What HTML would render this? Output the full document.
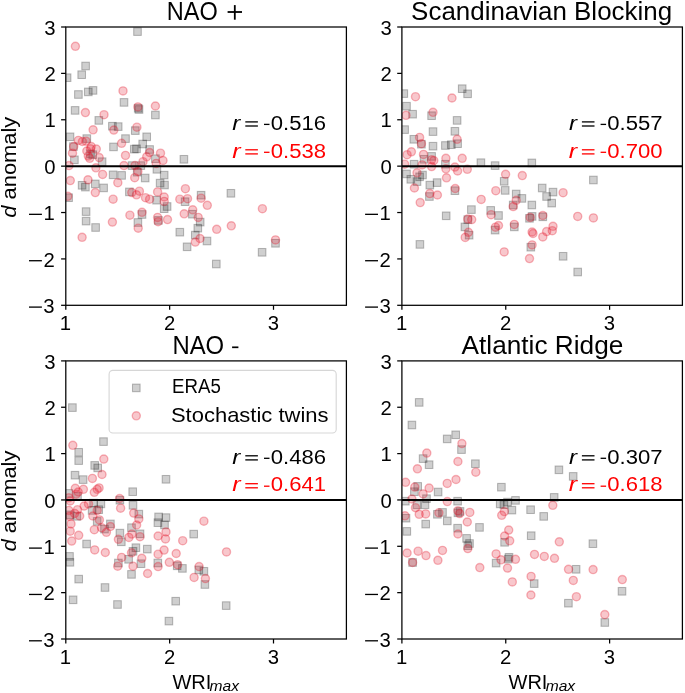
<!DOCTYPE html><html><head><meta charset="utf-8"><style>html,body{margin:0;padding:0;background:#fff;overflow:hidden}svg{display:block}text{font-family:"Liberation Sans",sans-serif}</style></head><body>
<svg width="685" height="693" viewBox="0 0 685 693">
<rect width="685" height="693" fill="#fff"/>
<g clip-path="url(#c0)">
<g fill="rgba(0,0,0,0.19)" stroke="rgba(0,0,0,0.25)" stroke-width="1.05">
<rect x="133.70" y="27.80" width="7.60" height="7.60"/>
<rect x="81.80" y="62.20" width="7.60" height="7.60"/>
<rect x="77.90" y="70.90" width="7.60" height="7.60"/>
<rect x="63.30" y="73.90" width="7.60" height="7.60"/>
<rect x="74.60" y="90.70" width="7.60" height="7.60"/>
<rect x="84.50" y="88.10" width="7.60" height="7.60"/>
<rect x="89.20" y="86.60" width="7.60" height="7.60"/>
<rect x="120.20" y="98.60" width="7.60" height="7.60"/>
<rect x="134.40" y="104.50" width="7.60" height="7.60"/>
<rect x="135.20" y="105.70" width="7.60" height="7.60"/>
<rect x="151.60" y="111.20" width="7.60" height="7.60"/>
<rect x="71.30" y="106.60" width="7.60" height="7.60"/>
<rect x="95.00" y="116.60" width="7.60" height="7.60"/>
<rect x="108.60" y="122.40" width="7.60" height="7.60"/>
<rect x="114.40" y="122.80" width="7.60" height="7.60"/>
<rect x="131.50" y="126.80" width="7.60" height="7.60"/>
<rect x="66.20" y="133.00" width="7.60" height="7.60"/>
<rect x="83.00" y="134.80" width="7.60" height="7.60"/>
<rect x="121.70" y="134.80" width="7.60" height="7.60"/>
<rect x="142.90" y="133.00" width="7.60" height="7.60"/>
<rect x="109.70" y="143.10" width="7.60" height="7.60"/>
<rect x="138.90" y="140.20" width="7.60" height="7.60"/>
<rect x="69.60" y="142.80" width="7.60" height="7.60"/>
<rect x="130.50" y="145.30" width="7.60" height="7.60"/>
<rect x="132.70" y="145.00" width="7.60" height="7.60"/>
<rect x="145.80" y="145.70" width="7.60" height="7.60"/>
<rect x="86.70" y="150.10" width="7.60" height="7.60"/>
<rect x="88.90" y="150.90" width="7.60" height="7.60"/>
<rect x="70.60" y="156.00" width="7.60" height="7.60"/>
<rect x="98.30" y="157.90" width="7.60" height="7.60"/>
<rect x="151.60" y="154.90" width="7.60" height="7.60"/>
<rect x="128.30" y="161.80" width="7.60" height="7.60"/>
<rect x="137.00" y="161.80" width="7.60" height="7.60"/>
<rect x="153.10" y="165.50" width="7.60" height="7.60"/>
<rect x="109.30" y="171.00" width="7.60" height="7.60"/>
<rect x="117.80" y="171.60" width="7.60" height="7.60"/>
<rect x="133.40" y="168.40" width="7.60" height="7.60"/>
<rect x="141.40" y="174.20" width="7.60" height="7.60"/>
<rect x="78.30" y="181.50" width="7.60" height="7.60"/>
<rect x="81.60" y="183.30" width="7.60" height="7.60"/>
<rect x="91.50" y="180.10" width="7.60" height="7.60"/>
<rect x="99.80" y="184.10" width="7.60" height="7.60"/>
<rect x="156.30" y="179.30" width="7.60" height="7.60"/>
<rect x="125.60" y="188.10" width="7.60" height="7.60"/>
<rect x="64.80" y="193.90" width="7.60" height="7.60"/>
<rect x="152.80" y="196.40" width="7.60" height="7.60"/>
<rect x="82.30" y="207.80" width="7.60" height="7.60"/>
<rect x="138.20" y="210.70" width="7.60" height="7.60"/>
<rect x="154.60" y="216.60" width="7.60" height="7.60"/>
<rect x="82.30" y="217.30" width="7.60" height="7.60"/>
<rect x="134.10" y="218.70" width="7.60" height="7.60"/>
<rect x="180.10" y="155.50" width="7.60" height="7.60"/>
<rect x="160.40" y="171.30" width="7.60" height="7.60"/>
<rect x="160.70" y="181.20" width="7.60" height="7.60"/>
<rect x="163.30" y="202.70" width="7.60" height="7.60"/>
<rect x="160.40" y="204.90" width="7.60" height="7.60"/>
<rect x="181.30" y="197.90" width="7.60" height="7.60"/>
<rect x="197.30" y="191.40" width="7.60" height="7.60"/>
<rect x="227.10" y="189.50" width="7.60" height="7.60"/>
<rect x="188.60" y="210.40" width="7.60" height="7.60"/>
<rect x="196.40" y="218.30" width="7.60" height="7.60"/>
<rect x="91.80" y="223.70" width="7.60" height="7.60"/>
<rect x="194.00" y="224.40" width="7.60" height="7.60"/>
<rect x="176.00" y="228.40" width="7.60" height="7.60"/>
<rect x="191.50" y="231.30" width="7.60" height="7.60"/>
<rect x="203.20" y="237.20" width="7.60" height="7.60"/>
<rect x="183.30" y="243.00" width="7.60" height="7.60"/>
<rect x="212.50" y="260.20" width="7.60" height="7.60"/>
<rect x="258.30" y="248.50" width="7.60" height="7.60"/>
<rect x="271.70" y="239.50" width="7.60" height="7.60"/>
</g>
<g fill="rgba(228,30,50,0.25)" stroke="rgba(230,20,40,0.30)" stroke-width="1.40">
<circle cx="75.4" cy="46.3" r="4.05"/>
<circle cx="123.0" cy="90.9" r="4.05"/>
<circle cx="137.9" cy="106.9" r="4.05"/>
<circle cx="155.4" cy="106.0" r="4.05"/>
<circle cx="85.4" cy="112.6" r="4.05"/>
<circle cx="104.0" cy="114.7" r="4.05"/>
<circle cx="113.8" cy="130.1" r="4.05"/>
<circle cx="93.1" cy="129.8" r="4.05"/>
<circle cx="136.9" cy="127.2" r="4.05"/>
<circle cx="78.4" cy="140.4" r="4.05"/>
<circle cx="82.4" cy="141.5" r="4.05"/>
<circle cx="86.1" cy="141.2" r="4.05"/>
<circle cx="121.6" cy="143.3" r="4.05"/>
<circle cx="73.7" cy="146.6" r="4.05"/>
<circle cx="91.2" cy="146.6" r="4.05"/>
<circle cx="96.3" cy="149.1" r="4.05"/>
<circle cx="149.6" cy="152.5" r="4.05"/>
<circle cx="86.8" cy="151.0" r="4.05"/>
<circle cx="90.5" cy="148.8" r="4.05"/>
<circle cx="72.5" cy="153.2" r="4.05"/>
<circle cx="88.3" cy="156.1" r="4.05"/>
<circle cx="89.7" cy="158.3" r="4.05"/>
<circle cx="125.5" cy="155.4" r="4.05"/>
<circle cx="146.7" cy="156.8" r="4.05"/>
<circle cx="160.5" cy="153.2" r="4.05"/>
<circle cx="99.2" cy="157.6" r="4.05"/>
<circle cx="143.0" cy="161.7" r="4.05"/>
<circle cx="69.0" cy="165.6" r="4.05"/>
<circle cx="124.0" cy="165.6" r="4.05"/>
<circle cx="135.0" cy="165.6" r="4.05"/>
<circle cx="156.2" cy="163.4" r="4.05"/>
<circle cx="95.9" cy="167.8" r="4.05"/>
<circle cx="102.6" cy="174.4" r="4.05"/>
<circle cx="137.9" cy="171.4" r="4.05"/>
<circle cx="134.7" cy="177.7" r="4.05"/>
<circle cx="70.3" cy="180.6" r="4.05"/>
<circle cx="88.0" cy="179.8" r="4.05"/>
<circle cx="117.8" cy="182.7" r="4.05"/>
<circle cx="95.3" cy="192.6" r="4.05"/>
<circle cx="131.8" cy="192.6" r="4.05"/>
<circle cx="139.4" cy="191.2" r="4.05"/>
<circle cx="136.5" cy="194.8" r="4.05"/>
<circle cx="157.6" cy="191.9" r="4.05"/>
<circle cx="67.8" cy="196.3" r="4.05"/>
<circle cx="113.1" cy="199.2" r="4.05"/>
<circle cx="145.5" cy="197.7" r="4.05"/>
<circle cx="149.6" cy="199.2" r="4.05"/>
<circle cx="129.9" cy="215.2" r="4.05"/>
<circle cx="142.0" cy="212.3" r="4.05"/>
<circle cx="157.6" cy="217.4" r="4.05"/>
<circle cx="112.4" cy="222.1" r="4.05"/>
<circle cx="163.0" cy="160.5" r="4.05"/>
<circle cx="185.4" cy="188.7" r="4.05"/>
<circle cx="164.2" cy="197.0" r="4.05"/>
<circle cx="164.2" cy="201.4" r="4.05"/>
<circle cx="179.8" cy="199.2" r="4.05"/>
<circle cx="187.5" cy="198.7" r="4.05"/>
<circle cx="201.1" cy="198.2" r="4.05"/>
<circle cx="207.3" cy="205.3" r="4.05"/>
<circle cx="262.4" cy="208.7" r="4.05"/>
<circle cx="184.2" cy="213.8" r="4.05"/>
<circle cx="192.7" cy="209.8" r="4.05"/>
<circle cx="198.2" cy="217.4" r="4.05"/>
<circle cx="167.5" cy="219.6" r="4.05"/>
<circle cx="231.3" cy="225.8" r="4.05"/>
<circle cx="138.2" cy="228.2" r="4.05"/>
<circle cx="158.1" cy="221.7" r="4.05"/>
<circle cx="82.1" cy="237.3" r="4.05"/>
<circle cx="216.7" cy="229.3" r="4.05"/>
<circle cx="200.0" cy="238.5" r="4.05"/>
<circle cx="195.3" cy="242.1" r="4.05"/>
<circle cx="275.5" cy="239.9" r="4.05"/>
</g>
<line x1="65.80" x2="346.40" y1="166.15" y2="166.15" stroke="#000" stroke-width="2.0"/>
</g>
<g clip-path="url(#c1)">
<g fill="rgba(0,0,0,0.19)" stroke="rgba(0,0,0,0.25)" stroke-width="1.05">
<rect x="458.40" y="84.90" width="7.60" height="7.60"/>
<rect x="463.80" y="90.00" width="7.60" height="7.60"/>
<rect x="400.00" y="89.80" width="7.60" height="7.60"/>
<rect x="402.70" y="102.40" width="7.60" height="7.60"/>
<rect x="408.80" y="110.40" width="7.60" height="7.60"/>
<rect x="427.80" y="111.90" width="7.60" height="7.60"/>
<rect x="453.30" y="116.60" width="7.60" height="7.60"/>
<rect x="400.80" y="125.80" width="7.60" height="7.60"/>
<rect x="429.20" y="127.80" width="7.60" height="7.60"/>
<rect x="451.10" y="127.50" width="7.60" height="7.60"/>
<rect x="410.00" y="135.50" width="7.60" height="7.60"/>
<rect x="417.60" y="140.40" width="7.60" height="7.60"/>
<rect x="429.20" y="142.40" width="7.60" height="7.60"/>
<rect x="441.60" y="141.70" width="7.60" height="7.60"/>
<rect x="447.50" y="140.90" width="7.60" height="7.60"/>
<rect x="453.80" y="139.90" width="7.60" height="7.60"/>
<rect x="427.80" y="152.60" width="7.60" height="7.60"/>
<rect x="420.20" y="155.50" width="7.60" height="7.60"/>
<rect x="477.10" y="158.90" width="7.60" height="7.60"/>
<rect x="491.30" y="161.80" width="7.60" height="7.60"/>
<rect x="410.30" y="160.40" width="7.60" height="7.60"/>
<rect x="441.60" y="160.40" width="7.60" height="7.60"/>
<rect x="402.70" y="170.10" width="7.60" height="7.60"/>
<rect x="407.00" y="175.50" width="7.60" height="7.60"/>
<rect x="413.20" y="177.80" width="7.60" height="7.60"/>
<rect x="415.80" y="173.00" width="7.60" height="7.60"/>
<rect x="418.70" y="171.20" width="7.60" height="7.60"/>
<rect x="426.00" y="181.30" width="7.60" height="7.60"/>
<rect x="433.30" y="178.80" width="7.60" height="7.60"/>
<rect x="451.10" y="186.90" width="7.60" height="7.60"/>
<rect x="425.60" y="192.70" width="7.60" height="7.60"/>
<rect x="442.40" y="212.00" width="7.60" height="7.60"/>
<rect x="467.60" y="205.80" width="7.60" height="7.60"/>
<rect x="486.90" y="206.60" width="7.60" height="7.60"/>
<rect x="464.00" y="215.80" width="7.60" height="7.60"/>
<rect x="461.10" y="223.10" width="7.60" height="7.60"/>
<rect x="465.30" y="231.40" width="7.60" height="7.60"/>
<rect x="416.10" y="240.60" width="7.60" height="7.60"/>
<rect x="528.00" y="159.10" width="7.60" height="7.60"/>
<rect x="589.60" y="176.20" width="7.60" height="7.60"/>
<rect x="500.40" y="177.50" width="7.60" height="7.60"/>
<rect x="501.40" y="186.60" width="7.60" height="7.60"/>
<rect x="512.40" y="190.20" width="7.60" height="7.60"/>
<rect x="518.10" y="194.60" width="7.60" height="7.60"/>
<rect x="538.40" y="184.20" width="7.60" height="7.60"/>
<rect x="549.20" y="188.30" width="7.60" height="7.60"/>
<rect x="542.80" y="192.70" width="7.60" height="7.60"/>
<rect x="547.90" y="199.30" width="7.60" height="7.60"/>
<rect x="528.00" y="201.20" width="7.60" height="7.60"/>
<rect x="509.40" y="201.20" width="7.60" height="7.60"/>
<rect x="494.70" y="211.70" width="7.60" height="7.60"/>
<rect x="528.30" y="212.60" width="7.60" height="7.60"/>
<rect x="525.70" y="214.50" width="7.60" height="7.60"/>
<rect x="539.00" y="213.00" width="7.60" height="7.60"/>
<rect x="491.30" y="226.30" width="7.60" height="7.60"/>
<rect x="510.50" y="223.10" width="7.60" height="7.60"/>
<rect x="527.00" y="243.40" width="7.60" height="7.60"/>
<rect x="559.30" y="252.50" width="7.60" height="7.60"/>
<rect x="573.90" y="268.20" width="7.60" height="7.60"/>
</g>
<g fill="rgba(228,30,50,0.25)" stroke="rgba(230,20,40,0.30)" stroke-width="1.40">
<circle cx="415.5" cy="96.7" r="4.05"/>
<circle cx="452.0" cy="98.0" r="4.05"/>
<circle cx="433.0" cy="112.3" r="4.05"/>
<circle cx="406.0" cy="115.3" r="4.05"/>
<circle cx="419.6" cy="137.4" r="4.05"/>
<circle cx="421.4" cy="143.7" r="4.05"/>
<circle cx="457.1" cy="139.3" r="4.05"/>
<circle cx="407.1" cy="154.7" r="4.05"/>
<circle cx="411.4" cy="151.8" r="4.05"/>
<circle cx="423.5" cy="154.4" r="4.05"/>
<circle cx="431.6" cy="159.8" r="4.05"/>
<circle cx="433.8" cy="160.5" r="4.05"/>
<circle cx="445.9" cy="158.3" r="4.05"/>
<circle cx="462.2" cy="158.3" r="4.05"/>
<circle cx="404.6" cy="164.2" r="4.05"/>
<circle cx="422.1" cy="164.9" r="4.05"/>
<circle cx="454.9" cy="167.1" r="4.05"/>
<circle cx="467.3" cy="169.3" r="4.05"/>
<circle cx="431.6" cy="166.6" r="4.05"/>
<circle cx="445.9" cy="168.8" r="4.05"/>
<circle cx="457.6" cy="171.0" r="4.05"/>
<circle cx="417.0" cy="172.8" r="4.05"/>
<circle cx="446.5" cy="177.8" r="4.05"/>
<circle cx="414.4" cy="188.0" r="4.05"/>
<circle cx="455.2" cy="188.5" r="4.05"/>
<circle cx="429.8" cy="193.6" r="4.05"/>
<circle cx="437.4" cy="195.0" r="4.05"/>
<circle cx="420.2" cy="202.6" r="4.05"/>
<circle cx="481.2" cy="199.4" r="4.05"/>
<circle cx="467.8" cy="219.1" r="4.05"/>
<circle cx="471.7" cy="219.6" r="4.05"/>
<circle cx="468.4" cy="232.3" r="4.05"/>
<circle cx="465.2" cy="237.4" r="4.05"/>
<circle cx="505.6" cy="174.3" r="4.05"/>
<circle cx="522.3" cy="175.6" r="4.05"/>
<circle cx="495.8" cy="190.7" r="4.05"/>
<circle cx="516.2" cy="200.3" r="4.05"/>
<circle cx="513.2" cy="206.6" r="4.05"/>
<circle cx="563.1" cy="192.7" r="4.05"/>
<circle cx="491.1" cy="214.7" r="4.05"/>
<circle cx="530.2" cy="217.4" r="4.05"/>
<circle cx="542.8" cy="215.5" r="4.05"/>
<circle cx="577.7" cy="216.4" r="4.05"/>
<circle cx="593.4" cy="217.9" r="4.05"/>
<circle cx="498.5" cy="225.5" r="4.05"/>
<circle cx="495.5" cy="227.2" r="4.05"/>
<circle cx="514.3" cy="224.4" r="4.05"/>
<circle cx="532.1" cy="232.0" r="4.05"/>
<circle cx="533.0" cy="233.5" r="4.05"/>
<circle cx="546.6" cy="231.6" r="4.05"/>
<circle cx="553.0" cy="226.3" r="4.05"/>
<circle cx="552.3" cy="230.7" r="4.05"/>
<circle cx="542.8" cy="236.9" r="4.05"/>
<circle cx="532.1" cy="244.9" r="4.05"/>
<circle cx="504.2" cy="251.9" r="4.05"/>
<circle cx="529.5" cy="258.6" r="4.05"/>
</g>
<line x1="401.90" x2="682.40" y1="166.15" y2="166.15" stroke="#000" stroke-width="2.0"/>
</g>
<g clip-path="url(#c2)">
<g fill="rgba(0,0,0,0.19)" stroke="rgba(0,0,0,0.25)" stroke-width="1.05">
<rect x="68.60" y="403.80" width="7.60" height="7.60"/>
<rect x="99.70" y="437.80" width="7.60" height="7.60"/>
<rect x="74.90" y="448.50" width="7.60" height="7.60"/>
<rect x="74.90" y="456.80" width="7.60" height="7.60"/>
<rect x="90.90" y="461.60" width="7.60" height="7.60"/>
<rect x="93.90" y="464.10" width="7.60" height="7.60"/>
<rect x="71.20" y="471.40" width="7.60" height="7.60"/>
<rect x="79.30" y="475.80" width="7.60" height="7.60"/>
<rect x="128.90" y="487.90" width="7.60" height="7.60"/>
<rect x="65.00" y="489.60" width="7.60" height="7.60"/>
<rect x="73.70" y="492.60" width="7.60" height="7.60"/>
<rect x="116.10" y="496.40" width="7.60" height="7.60"/>
<rect x="129.20" y="501.50" width="7.60" height="7.60"/>
<rect x="89.80" y="499.30" width="7.60" height="7.60"/>
<rect x="97.10" y="500.10" width="7.60" height="7.60"/>
<rect x="88.30" y="506.60" width="7.60" height="7.60"/>
<rect x="94.90" y="505.90" width="7.60" height="7.60"/>
<rect x="135.00" y="510.30" width="7.60" height="7.60"/>
<rect x="73.00" y="512.50" width="7.60" height="7.60"/>
<rect x="66.40" y="511.00" width="7.60" height="7.60"/>
<rect x="93.40" y="517.60" width="7.60" height="7.60"/>
<rect x="106.60" y="520.10" width="7.60" height="7.60"/>
<rect x="100.70" y="525.30" width="7.60" height="7.60"/>
<rect x="127.70" y="523.90" width="7.60" height="7.60"/>
<rect x="116.10" y="529.30" width="7.60" height="7.60"/>
<rect x="117.50" y="538.00" width="7.60" height="7.60"/>
<rect x="136.20" y="530.00" width="7.60" height="7.60"/>
<rect x="82.80" y="540.20" width="7.60" height="7.60"/>
<rect x="132.10" y="543.90" width="7.60" height="7.60"/>
<rect x="129.20" y="547.50" width="7.60" height="7.60"/>
<rect x="143.50" y="545.30" width="7.60" height="7.60"/>
<rect x="65.70" y="552.60" width="7.60" height="7.60"/>
<rect x="66.10" y="558.50" width="7.60" height="7.60"/>
<rect x="124.80" y="555.50" width="7.60" height="7.60"/>
<rect x="114.60" y="559.20" width="7.60" height="7.60"/>
<rect x="137.20" y="559.90" width="7.60" height="7.60"/>
<rect x="154.00" y="559.20" width="7.60" height="7.60"/>
<rect x="127.70" y="570.60" width="7.60" height="7.60"/>
<rect x="74.90" y="575.30" width="7.60" height="7.60"/>
<rect x="101.20" y="583.70" width="7.60" height="7.60"/>
<rect x="162.20" y="475.50" width="7.60" height="7.60"/>
<rect x="154.80" y="513.10" width="7.60" height="7.60"/>
<rect x="162.20" y="513.80" width="7.60" height="7.60"/>
<rect x="154.10" y="518.90" width="7.60" height="7.60"/>
<rect x="160.70" y="521.10" width="7.60" height="7.60"/>
<rect x="189.90" y="530.30" width="7.60" height="7.60"/>
<rect x="173.40" y="562.00" width="7.60" height="7.60"/>
<rect x="178.60" y="564.60" width="7.60" height="7.60"/>
<rect x="195.00" y="566.10" width="7.60" height="7.60"/>
<rect x="200.10" y="567.50" width="7.60" height="7.60"/>
<rect x="201.10" y="580.70" width="7.60" height="7.60"/>
<rect x="171.90" y="597.40" width="7.60" height="7.60"/>
<rect x="222.40" y="601.80" width="7.60" height="7.60"/>
<rect x="69.30" y="596.00" width="7.60" height="7.60"/>
<rect x="113.70" y="600.70" width="7.60" height="7.60"/>
<rect x="165.10" y="617.30" width="7.60" height="7.60"/>
</g>
<g fill="rgba(228,30,50,0.25)" stroke="rgba(230,20,40,0.30)" stroke-width="1.40">
<circle cx="72.8" cy="445.3" r="4.05"/>
<circle cx="103.8" cy="459.1" r="4.05"/>
<circle cx="102.0" cy="474.5" r="4.05"/>
<circle cx="92.4" cy="478.4" r="4.05"/>
<circle cx="75.3" cy="488.3" r="4.05"/>
<circle cx="83.4" cy="489.3" r="4.05"/>
<circle cx="78.2" cy="492.0" r="4.05"/>
<circle cx="76.1" cy="494.2" r="4.05"/>
<circle cx="99.1" cy="487.9" r="4.05"/>
<circle cx="97.2" cy="489.3" r="4.05"/>
<circle cx="94.3" cy="492.3" r="4.05"/>
<circle cx="119.6" cy="498.5" r="4.05"/>
<circle cx="68.8" cy="497.8" r="4.05"/>
<circle cx="70.2" cy="501.0" r="4.05"/>
<circle cx="120.6" cy="508.2" r="4.05"/>
<circle cx="84.1" cy="506.1" r="4.05"/>
<circle cx="88.5" cy="503.9" r="4.05"/>
<circle cx="77.5" cy="509.7" r="4.05"/>
<circle cx="68.8" cy="510.4" r="4.05"/>
<circle cx="69.5" cy="516.3" r="4.05"/>
<circle cx="74.6" cy="513.4" r="4.05"/>
<circle cx="79.7" cy="516.0" r="4.05"/>
<circle cx="92.8" cy="516.0" r="4.05"/>
<circle cx="97.2" cy="510.4" r="4.05"/>
<circle cx="99.4" cy="519.9" r="4.05"/>
<circle cx="71.0" cy="523.9" r="4.05"/>
<circle cx="70.2" cy="531.2" r="4.05"/>
<circle cx="78.7" cy="535.3" r="4.05"/>
<circle cx="71.7" cy="541.1" r="4.05"/>
<circle cx="94.3" cy="529.7" r="4.05"/>
<circle cx="101.6" cy="527.7" r="4.05"/>
<circle cx="106.4" cy="532.3" r="4.05"/>
<circle cx="110.4" cy="526.5" r="4.05"/>
<circle cx="133.7" cy="513.1" r="4.05"/>
<circle cx="138.8" cy="518.9" r="4.05"/>
<circle cx="136.6" cy="525.0" r="4.05"/>
<circle cx="131.8" cy="534.1" r="4.05"/>
<circle cx="128.9" cy="537.4" r="4.05"/>
<circle cx="140.0" cy="536.7" r="4.05"/>
<circle cx="118.4" cy="539.3" r="4.05"/>
<circle cx="158.1" cy="536.0" r="4.05"/>
<circle cx="94.7" cy="549.9" r="4.05"/>
<circle cx="105.3" cy="552.5" r="4.05"/>
<circle cx="131.5" cy="552.8" r="4.05"/>
<circle cx="121.6" cy="557.4" r="4.05"/>
<circle cx="141.8" cy="558.3" r="4.05"/>
<circle cx="158.1" cy="554.2" r="4.05"/>
<circle cx="117.7" cy="566.2" r="4.05"/>
<circle cx="133.0" cy="566.2" r="4.05"/>
<circle cx="158.1" cy="566.6" r="4.05"/>
<circle cx="147.6" cy="573.5" r="4.05"/>
<circle cx="203.9" cy="521.2" r="4.05"/>
<circle cx="166.0" cy="531.9" r="4.05"/>
<circle cx="165.5" cy="538.9" r="4.05"/>
<circle cx="182.7" cy="540.7" r="4.05"/>
<circle cx="226.5" cy="551.9" r="4.05"/>
<circle cx="164.1" cy="550.1" r="4.05"/>
<circle cx="176.2" cy="553.5" r="4.05"/>
<circle cx="169.3" cy="562.3" r="4.05"/>
<circle cx="177.6" cy="564.7" r="4.05"/>
<circle cx="199.1" cy="566.6" r="4.05"/>
<circle cx="194.1" cy="577.4" r="4.05"/>
<circle cx="205.4" cy="578.6" r="4.05"/>
</g>
<line x1="65.80" x2="346.40" y1="499.95" y2="499.95" stroke="#000" stroke-width="2.0"/>
</g>
<g clip-path="url(#c3)">
<g fill="rgba(0,0,0,0.19)" stroke="rgba(0,0,0,0.25)" stroke-width="1.05">
<rect x="415.40" y="398.60" width="7.60" height="7.60"/>
<rect x="408.10" y="421.20" width="7.60" height="7.60"/>
<rect x="443.40" y="435.10" width="7.60" height="7.60"/>
<rect x="451.90" y="431.00" width="7.60" height="7.60"/>
<rect x="457.70" y="445.80" width="7.60" height="7.60"/>
<rect x="419.30" y="454.80" width="7.60" height="7.60"/>
<rect x="425.30" y="460.90" width="7.60" height="7.60"/>
<rect x="471.60" y="459.90" width="7.60" height="7.60"/>
<rect x="413.90" y="482.60" width="7.60" height="7.60"/>
<rect x="434.30" y="488.20" width="7.60" height="7.60"/>
<rect x="410.60" y="487.90" width="7.60" height="7.60"/>
<rect x="422.70" y="494.90" width="7.60" height="7.60"/>
<rect x="401.50" y="497.40" width="7.60" height="7.60"/>
<rect x="453.80" y="497.40" width="7.60" height="7.60"/>
<rect x="413.20" y="501.00" width="7.60" height="7.60"/>
<rect x="421.20" y="501.00" width="7.60" height="7.60"/>
<rect x="402.20" y="514.40" width="7.60" height="7.60"/>
<rect x="433.60" y="510.50" width="7.60" height="7.60"/>
<rect x="438.70" y="508.60" width="7.60" height="7.60"/>
<rect x="454.10" y="509.00" width="7.60" height="7.60"/>
<rect x="456.20" y="507.60" width="7.60" height="7.60"/>
<rect x="443.50" y="517.10" width="7.60" height="7.60"/>
<rect x="421.90" y="520.30" width="7.60" height="7.60"/>
<rect x="475.70" y="523.60" width="7.60" height="7.60"/>
<rect x="403.00" y="527.60" width="7.60" height="7.60"/>
<rect x="453.80" y="524.40" width="7.60" height="7.60"/>
<rect x="462.80" y="534.60" width="7.60" height="7.60"/>
<rect x="465.70" y="539.70" width="7.60" height="7.60"/>
<rect x="464.00" y="541.90" width="7.60" height="7.60"/>
<rect x="408.80" y="558.70" width="7.60" height="7.60"/>
<rect x="555.10" y="466.00" width="7.60" height="7.60"/>
<rect x="569.40" y="472.60" width="7.60" height="7.60"/>
<rect x="497.60" y="483.40" width="7.60" height="7.60"/>
<rect x="496.40" y="500.10" width="7.60" height="7.60"/>
<rect x="503.70" y="498.30" width="7.60" height="7.60"/>
<rect x="511.70" y="496.60" width="7.60" height="7.60"/>
<rect x="500.10" y="500.90" width="7.60" height="7.60"/>
<rect x="508.10" y="506.30" width="7.60" height="7.60"/>
<rect x="550.40" y="493.60" width="7.60" height="7.60"/>
<rect x="526.80" y="505.90" width="7.60" height="7.60"/>
<rect x="539.90" y="512.60" width="7.60" height="7.60"/>
<rect x="500.80" y="538.50" width="7.60" height="7.60"/>
<rect x="527.40" y="531.90" width="7.60" height="7.60"/>
<rect x="505.20" y="553.50" width="7.60" height="7.60"/>
<rect x="504.40" y="555.30" width="7.60" height="7.60"/>
<rect x="492.30" y="559.30" width="7.60" height="7.60"/>
<rect x="572.30" y="565.50" width="7.60" height="7.60"/>
<rect x="589.10" y="539.90" width="7.60" height="7.60"/>
<rect x="618.20" y="587.50" width="7.60" height="7.60"/>
<rect x="564.60" y="599.40" width="7.60" height="7.60"/>
<rect x="601.00" y="618.70" width="7.60" height="7.60"/>
<rect x="530.40" y="579.80" width="7.60" height="7.60"/>
</g>
<g fill="rgba(228,30,50,0.25)" stroke="rgba(230,20,40,0.30)" stroke-width="1.40">
<circle cx="461.9" cy="443.6" r="4.05"/>
<circle cx="426.8" cy="453.1" r="4.05"/>
<circle cx="457.9" cy="461.5" r="4.05"/>
<circle cx="417.4" cy="468.8" r="4.05"/>
<circle cx="475.8" cy="472.2" r="4.05"/>
<circle cx="405.6" cy="482.3" r="4.05"/>
<circle cx="447.2" cy="483.4" r="4.05"/>
<circle cx="456.0" cy="479.5" r="4.05"/>
<circle cx="414.8" cy="487.1" r="4.05"/>
<circle cx="429.1" cy="488.1" r="4.05"/>
<circle cx="423.1" cy="493.9" r="4.05"/>
<circle cx="411.9" cy="499.0" r="4.05"/>
<circle cx="447.3" cy="501.6" r="4.05"/>
<circle cx="415.5" cy="507.7" r="4.05"/>
<circle cx="419.2" cy="514.3" r="4.05"/>
<circle cx="425.7" cy="513.9" r="4.05"/>
<circle cx="405.0" cy="515.8" r="4.05"/>
<circle cx="438.9" cy="512.8" r="4.05"/>
<circle cx="457.9" cy="510.7" r="4.05"/>
<circle cx="459.6" cy="513.6" r="4.05"/>
<circle cx="469.8" cy="512.4" r="4.05"/>
<circle cx="467.3" cy="522.0" r="4.05"/>
<circle cx="457.9" cy="534.0" r="4.05"/>
<circle cx="467.8" cy="548.6" r="4.05"/>
<circle cx="407.1" cy="553.0" r="4.05"/>
<circle cx="418.1" cy="551.2" r="4.05"/>
<circle cx="426.0" cy="555.6" r="4.05"/>
<circle cx="442.5" cy="550.4" r="4.05"/>
<circle cx="437.9" cy="560.3" r="4.05"/>
<circle cx="412.6" cy="562.5" r="4.05"/>
<circle cx="479.8" cy="567.6" r="4.05"/>
<circle cx="552.8" cy="505.3" r="4.05"/>
<circle cx="504.3" cy="511.6" r="4.05"/>
<circle cx="501.7" cy="515.3" r="4.05"/>
<circle cx="508.7" cy="530.1" r="4.05"/>
<circle cx="504.6" cy="536.0" r="4.05"/>
<circle cx="509.7" cy="540.8" r="4.05"/>
<circle cx="559.3" cy="541.8" r="4.05"/>
<circle cx="496.1" cy="553.9" r="4.05"/>
<circle cx="501.0" cy="559.8" r="4.05"/>
<circle cx="515.5" cy="559.3" r="4.05"/>
<circle cx="534.5" cy="554.4" r="4.05"/>
<circle cx="544.3" cy="556.4" r="4.05"/>
<circle cx="554.5" cy="558.3" r="4.05"/>
<circle cx="507.5" cy="568.1" r="4.05"/>
<circle cx="568.5" cy="569.3" r="4.05"/>
<circle cx="593.1" cy="569.6" r="4.05"/>
<circle cx="573.3" cy="580.4" r="4.05"/>
<circle cx="622.3" cy="579.6" r="4.05"/>
<circle cx="576.4" cy="596.7" r="4.05"/>
<circle cx="604.8" cy="614.6" r="4.05"/>
<circle cx="531.1" cy="576.4" r="4.05"/>
<circle cx="512.3" cy="581.9" r="4.05"/>
<circle cx="530.9" cy="595.0" r="4.05"/>
</g>
<line x1="401.90" x2="682.40" y1="499.95" y2="499.95" stroke="#000" stroke-width="2.0"/>
</g>
<defs><clipPath id="c0"><rect x="65.80" y="27.00" width="280.60" height="278.30"/></clipPath><clipPath id="c1"><rect x="401.90" y="27.00" width="280.50" height="278.30"/></clipPath><clipPath id="c2"><rect x="65.80" y="360.90" width="280.60" height="278.10"/></clipPath><clipPath id="c3"><rect x="401.90" y="360.90" width="280.50" height="278.10"/></clipPath></defs>
<g stroke="#000" stroke-width="1.25" fill="none" stroke-linecap="square">
<rect x="65.80" y="27.00" width="280.60" height="278.30"/>
<rect x="401.90" y="27.00" width="280.50" height="278.30"/>
<rect x="65.80" y="360.90" width="280.60" height="278.10"/>
<rect x="401.90" y="360.90" width="280.50" height="278.10"/>
</g><g stroke="#000" stroke-width="1.25">
<line x1="61.10" x2="65.80" y1="27.00" y2="27.00"/>
<line x1="61.10" x2="65.80" y1="73.38" y2="73.38"/>
<line x1="61.10" x2="65.80" y1="119.77" y2="119.77"/>
<line x1="61.10" x2="65.80" y1="166.15" y2="166.15"/>
<line x1="61.10" x2="65.80" y1="212.53" y2="212.53"/>
<line x1="61.10" x2="65.80" y1="258.92" y2="258.92"/>
<line x1="61.10" x2="65.80" y1="305.30" y2="305.30"/>
<line x1="65.80" x2="65.80" y1="305.30" y2="309.80"/>
<line x1="169.65" x2="169.65" y1="305.30" y2="309.80"/>
<line x1="273.50" x2="273.50" y1="305.30" y2="309.80"/>
<line x1="397.20" x2="401.90" y1="27.00" y2="27.00"/>
<line x1="397.20" x2="401.90" y1="73.38" y2="73.38"/>
<line x1="397.20" x2="401.90" y1="119.77" y2="119.77"/>
<line x1="397.20" x2="401.90" y1="166.15" y2="166.15"/>
<line x1="397.20" x2="401.90" y1="212.53" y2="212.53"/>
<line x1="397.20" x2="401.90" y1="258.92" y2="258.92"/>
<line x1="397.20" x2="401.90" y1="305.30" y2="305.30"/>
<line x1="401.90" x2="401.90" y1="305.30" y2="309.80"/>
<line x1="505.75" x2="505.75" y1="305.30" y2="309.80"/>
<line x1="609.60" x2="609.60" y1="305.30" y2="309.80"/>
<line x1="61.10" x2="65.80" y1="360.90" y2="360.90"/>
<line x1="61.10" x2="65.80" y1="407.25" y2="407.25"/>
<line x1="61.10" x2="65.80" y1="453.60" y2="453.60"/>
<line x1="61.10" x2="65.80" y1="499.95" y2="499.95"/>
<line x1="61.10" x2="65.80" y1="546.30" y2="546.30"/>
<line x1="61.10" x2="65.80" y1="592.65" y2="592.65"/>
<line x1="61.10" x2="65.80" y1="639.00" y2="639.00"/>
<line x1="65.80" x2="65.80" y1="639.00" y2="643.50"/>
<line x1="169.65" x2="169.65" y1="639.00" y2="643.50"/>
<line x1="273.50" x2="273.50" y1="639.00" y2="643.50"/>
<line x1="397.20" x2="401.90" y1="360.90" y2="360.90"/>
<line x1="397.20" x2="401.90" y1="407.25" y2="407.25"/>
<line x1="397.20" x2="401.90" y1="453.60" y2="453.60"/>
<line x1="397.20" x2="401.90" y1="499.95" y2="499.95"/>
<line x1="397.20" x2="401.90" y1="546.30" y2="546.30"/>
<line x1="397.20" x2="401.90" y1="592.65" y2="592.65"/>
<line x1="397.20" x2="401.90" y1="639.00" y2="639.00"/>
<line x1="401.90" x2="401.90" y1="639.00" y2="643.50"/>
<line x1="505.75" x2="505.75" y1="639.00" y2="643.50"/>
<line x1="609.60" x2="609.60" y1="639.00" y2="643.50"/>
</g>
<rect x="109.1" y="370.4" width="227.1" height="62.6" rx="3.8" ry="3.8" fill="rgba(255,255,255,0.8)" stroke="rgba(204,204,204,0.8)" stroke-width="1.1"/>
<rect x="132.50" y="384.10" width="7.60" height="7.60" fill="rgba(0,0,0,0.19)" stroke="rgba(0,0,0,0.25)" stroke-width="1.05"/>
<circle cx="136.3" cy="415.8" r="4.05" fill="rgba(228,30,50,0.25)" stroke="rgba(230,20,40,0.30)" stroke-width="1.40"/>
<rect x="29.00" y="213.68" width="12.90" height="1.30" fill="#000"/>
<rect x="29.00" y="260.07" width="12.90" height="1.30" fill="#000"/>
<rect x="29.00" y="306.45" width="12.90" height="1.30" fill="#000"/>
<rect x="245.30" y="121.25" width="12.60" height="1.30" fill="#000"/>
<rect x="245.30" y="125.35" width="12.60" height="1.30" fill="#000"/>
<rect x="264.00" y="123.75" width="5.50" height="1.30" fill="#000"/>
<rect x="245.30" y="149.15" width="12.60" height="1.30" fill="#ff0000"/>
<rect x="245.30" y="153.25" width="12.60" height="1.30" fill="#ff0000"/>
<rect x="264.00" y="151.65" width="5.50" height="1.30" fill="#ff0000"/>
<rect x="365.10" y="213.68" width="12.90" height="1.30" fill="#000"/>
<rect x="365.10" y="260.07" width="12.90" height="1.30" fill="#000"/>
<rect x="365.10" y="306.45" width="12.90" height="1.30" fill="#000"/>
<rect x="581.90" y="121.25" width="12.60" height="1.30" fill="#000"/>
<rect x="581.90" y="125.35" width="12.60" height="1.30" fill="#000"/>
<rect x="600.60" y="123.75" width="5.50" height="1.30" fill="#000"/>
<rect x="581.90" y="149.15" width="12.60" height="1.30" fill="#ff0000"/>
<rect x="581.90" y="153.25" width="12.60" height="1.30" fill="#ff0000"/>
<rect x="600.60" y="151.65" width="5.50" height="1.30" fill="#ff0000"/>
<rect x="29.00" y="547.45" width="12.90" height="1.30" fill="#000"/>
<rect x="29.00" y="593.80" width="12.90" height="1.30" fill="#000"/>
<rect x="29.00" y="640.15" width="12.90" height="1.30" fill="#000"/>
<rect x="245.30" y="455.15" width="12.60" height="1.30" fill="#000"/>
<rect x="245.30" y="459.25" width="12.60" height="1.30" fill="#000"/>
<rect x="264.00" y="457.65" width="5.50" height="1.30" fill="#000"/>
<rect x="245.30" y="483.05" width="12.60" height="1.30" fill="#ff0000"/>
<rect x="245.30" y="487.15" width="12.60" height="1.30" fill="#ff0000"/>
<rect x="264.00" y="485.55" width="5.50" height="1.30" fill="#ff0000"/>
<rect x="365.10" y="547.45" width="12.90" height="1.30" fill="#000"/>
<rect x="365.10" y="593.80" width="12.90" height="1.30" fill="#000"/>
<rect x="365.10" y="640.15" width="12.90" height="1.30" fill="#000"/>
<rect x="581.90" y="455.15" width="12.60" height="1.30" fill="#000"/>
<rect x="581.90" y="459.25" width="12.60" height="1.30" fill="#000"/>
<rect x="600.60" y="457.65" width="5.50" height="1.30" fill="#000"/>
<rect x="581.90" y="483.05" width="12.60" height="1.30" fill="#ff0000"/>
<rect x="581.90" y="487.15" width="12.60" height="1.30" fill="#ff0000"/>
<rect x="600.60" y="485.55" width="5.50" height="1.30" fill="#ff0000"/>
<rect x="227.60" y="11.10" width="14.40" height="1.80" fill="#000"/>
<rect x="233.90" y="5.10" width="1.80" height="14.60" fill="#000"/>
<rect x="232.10" y="346.45" width="6.30" height="1.70" fill="#000"/>
<g style="opacity:0.999">
<text transform="translate(166.77,19.80) scale(0.9418,1)" font-size="25.00" fill="#000" text-anchor="start" style="">NAO</text>
<text transform="translate(411.11,19.80) scale(1.0380,1)" font-size="25.00" fill="#000" text-anchor="start" style="">Scandinavian Blocking</text>
<text transform="translate(172.44,353.60) scale(0.9556,1)" font-size="25.00" fill="#000" text-anchor="start" style="">NAO</text>
<text transform="translate(461.57,353.60) scale(1.0486,1)" font-size="25.00" fill="#000" text-anchor="start" style="">Atlantic Ridge</text>
<text transform="translate(55.65,34.60) scale(1.0000,1)" font-size="20.30" fill="#000" text-anchor="end" style="">3</text>
<text transform="translate(55.72,80.98) scale(1.0000,1)" font-size="20.30" fill="#000" text-anchor="end" style="">2</text>
<text transform="translate(55.71,127.37) scale(1.0000,1)" font-size="20.30" fill="#000" text-anchor="end" style="">1</text>
<text transform="translate(55.58,173.75) scale(1.0000,1)" font-size="20.30" fill="#000" text-anchor="end" style="">0</text>
<text transform="translate(54.71,220.13) scale(1.0000,1)" font-size="20.30" fill="#000" text-anchor="end" style="">1</text>
<text transform="translate(54.72,266.52) scale(1.0000,1)" font-size="20.30" fill="#000" text-anchor="end" style="">2</text>
<text transform="translate(54.65,312.90) scale(1.0000,1)" font-size="20.30" fill="#000" text-anchor="end" style="">3</text>
<text transform="translate(65.51,330.00) scale(1.0000,1)" font-size="20.30" fill="#000" text-anchor="middle" style="">1</text>
<text transform="translate(169.58,330.00) scale(1.0000,1)" font-size="20.30" fill="#000" text-anchor="middle" style="">2</text>
<text transform="translate(273.40,330.00) scale(1.0000,1)" font-size="20.30" fill="#000" text-anchor="middle" style="">3</text>
<text transform="translate(391.75,34.60) scale(1.0000,1)" font-size="20.30" fill="#000" text-anchor="end" style="">3</text>
<text transform="translate(391.82,80.98) scale(1.0000,1)" font-size="20.30" fill="#000" text-anchor="end" style="">2</text>
<text transform="translate(391.81,127.37) scale(1.0000,1)" font-size="20.30" fill="#000" text-anchor="end" style="">1</text>
<text transform="translate(391.68,173.75) scale(1.0000,1)" font-size="20.30" fill="#000" text-anchor="end" style="">0</text>
<text transform="translate(390.81,220.13) scale(1.0000,1)" font-size="20.30" fill="#000" text-anchor="end" style="">1</text>
<text transform="translate(390.82,266.52) scale(1.0000,1)" font-size="20.30" fill="#000" text-anchor="end" style="">2</text>
<text transform="translate(390.75,312.90) scale(1.0000,1)" font-size="20.30" fill="#000" text-anchor="end" style="">3</text>
<text transform="translate(401.61,330.00) scale(1.0000,1)" font-size="20.30" fill="#000" text-anchor="middle" style="">1</text>
<text transform="translate(505.68,330.00) scale(1.0000,1)" font-size="20.30" fill="#000" text-anchor="middle" style="">2</text>
<text transform="translate(609.50,330.00) scale(1.0000,1)" font-size="20.30" fill="#000" text-anchor="middle" style="">3</text>
<text transform="translate(55.65,368.50) scale(1.0000,1)" font-size="20.30" fill="#000" text-anchor="end" style="">3</text>
<text transform="translate(55.72,414.85) scale(1.0000,1)" font-size="20.30" fill="#000" text-anchor="end" style="">2</text>
<text transform="translate(55.71,461.20) scale(1.0000,1)" font-size="20.30" fill="#000" text-anchor="end" style="">1</text>
<text transform="translate(55.58,507.55) scale(1.0000,1)" font-size="20.30" fill="#000" text-anchor="end" style="">0</text>
<text transform="translate(54.71,553.90) scale(1.0000,1)" font-size="20.30" fill="#000" text-anchor="end" style="">1</text>
<text transform="translate(54.72,600.25) scale(1.0000,1)" font-size="20.30" fill="#000" text-anchor="end" style="">2</text>
<text transform="translate(54.65,646.60) scale(1.0000,1)" font-size="20.30" fill="#000" text-anchor="end" style="">3</text>
<text transform="translate(65.51,663.70) scale(1.0000,1)" font-size="20.30" fill="#000" text-anchor="middle" style="">1</text>
<text transform="translate(169.58,663.70) scale(1.0000,1)" font-size="20.30" fill="#000" text-anchor="middle" style="">2</text>
<text transform="translate(273.40,663.70) scale(1.0000,1)" font-size="20.30" fill="#000" text-anchor="middle" style="">3</text>
<text transform="translate(391.75,368.50) scale(1.0000,1)" font-size="20.30" fill="#000" text-anchor="end" style="">3</text>
<text transform="translate(391.82,414.85) scale(1.0000,1)" font-size="20.30" fill="#000" text-anchor="end" style="">2</text>
<text transform="translate(391.81,461.20) scale(1.0000,1)" font-size="20.30" fill="#000" text-anchor="end" style="">1</text>
<text transform="translate(391.68,507.55) scale(1.0000,1)" font-size="20.30" fill="#000" text-anchor="end" style="">0</text>
<text transform="translate(390.81,553.90) scale(1.0000,1)" font-size="20.30" fill="#000" text-anchor="end" style="">1</text>
<text transform="translate(390.82,600.25) scale(1.0000,1)" font-size="20.30" fill="#000" text-anchor="end" style="">2</text>
<text transform="translate(390.75,646.60) scale(1.0000,1)" font-size="20.30" fill="#000" text-anchor="end" style="">3</text>
<text transform="translate(401.61,663.70) scale(1.0000,1)" font-size="20.30" fill="#000" text-anchor="middle" style="">1</text>
<text transform="translate(505.68,663.70) scale(1.0000,1)" font-size="20.30" fill="#000" text-anchor="middle" style="">2</text>
<text transform="translate(609.50,663.70) scale(1.0000,1)" font-size="20.30" fill="#000" text-anchor="middle" style="">3</text>
<text transform="translate(232.34,129.60) scale(1.1807,1)" font-size="20.30" fill="#000" text-anchor="start" style="font-style:italic;">r</text>
<text transform="translate(270.74,129.60) scale(1.0882,1)" font-size="20.30" fill="#000" text-anchor="start" style="">0.516</text>
<text transform="translate(232.22,157.50) scale(1.2307,1)" font-size="20.30" fill="#ff0000" text-anchor="start" style="font-style:italic;">r</text>
<text transform="translate(270.72,157.50) scale(1.0882,1)" font-size="20.30" fill="#ff0000" text-anchor="start" style="">0.538</text>
<text transform="translate(568.94,129.60) scale(1.1807,1)" font-size="20.30" fill="#000" text-anchor="start" style="font-style:italic;">r</text>
<text transform="translate(607.34,129.60) scale(1.0882,1)" font-size="20.30" fill="#000" text-anchor="start" style="">0.557</text>
<text transform="translate(568.82,157.50) scale(1.2307,1)" font-size="20.30" fill="#ff0000" text-anchor="start" style="font-style:italic;">r</text>
<text transform="translate(607.32,157.50) scale(1.0882,1)" font-size="20.30" fill="#ff0000" text-anchor="start" style="">0.700</text>
<text transform="translate(232.34,463.50) scale(1.1807,1)" font-size="20.30" fill="#000" text-anchor="start" style="font-style:italic;">r</text>
<text transform="translate(270.74,463.50) scale(1.0882,1)" font-size="20.30" fill="#000" text-anchor="start" style="">0.486</text>
<text transform="translate(232.22,491.40) scale(1.2307,1)" font-size="20.30" fill="#ff0000" text-anchor="start" style="font-style:italic;">r</text>
<text transform="translate(270.72,491.40) scale(1.0882,1)" font-size="20.30" fill="#ff0000" text-anchor="start" style="">0.641</text>
<text transform="translate(568.94,463.50) scale(1.1807,1)" font-size="20.30" fill="#000" text-anchor="start" style="font-style:italic;">r</text>
<text transform="translate(607.34,463.50) scale(1.0882,1)" font-size="20.30" fill="#000" text-anchor="start" style="">0.307</text>
<text transform="translate(568.82,491.40) scale(1.2307,1)" font-size="20.30" fill="#ff0000" text-anchor="start" style="font-style:italic;">r</text>
<text transform="translate(607.32,491.40) scale(1.0882,1)" font-size="20.30" fill="#ff0000" text-anchor="start" style="">0.618</text>
<text transform="translate(172.07,393.00) scale(0.9207,1)" font-size="20.30" fill="#000" text-anchor="start" style="">ERA5</text>
<text transform="translate(170.90,421.50) scale(1.0838,1)" font-size="20.30" fill="#000" text-anchor="start" style="">Stochastic twins</text>
<text transform="translate(172.39,688.50) scale(0.9869,1)" font-size="20.30" fill="#000" text-anchor="start" style="">WRI</text>
<text transform="translate(209.58,691.00) scale(1.0978,1)" font-size="14.20" fill="#000" text-anchor="start" style="font-style:italic;">max</text>
<text transform="translate(508.49,688.50) scale(0.9869,1)" font-size="20.30" fill="#000" text-anchor="start" style="">WRI</text>
<text transform="translate(545.68,691.00) scale(1.0978,1)" font-size="14.20" fill="#000" text-anchor="start" style="font-style:italic;">max</text>
<text transform="translate(16.00,217.67) rotate(-90) scale(1.0780,1)" font-size="20.30" fill="#000"><tspan font-style="italic">d</tspan><tspan> anomaly</tspan></text>
<text transform="translate(16.00,551.57) rotate(-90) scale(1.0780,1)" font-size="20.30" fill="#000"><tspan font-style="italic">d</tspan><tspan> anomaly</tspan></text>
</g>
</svg></body></html>
